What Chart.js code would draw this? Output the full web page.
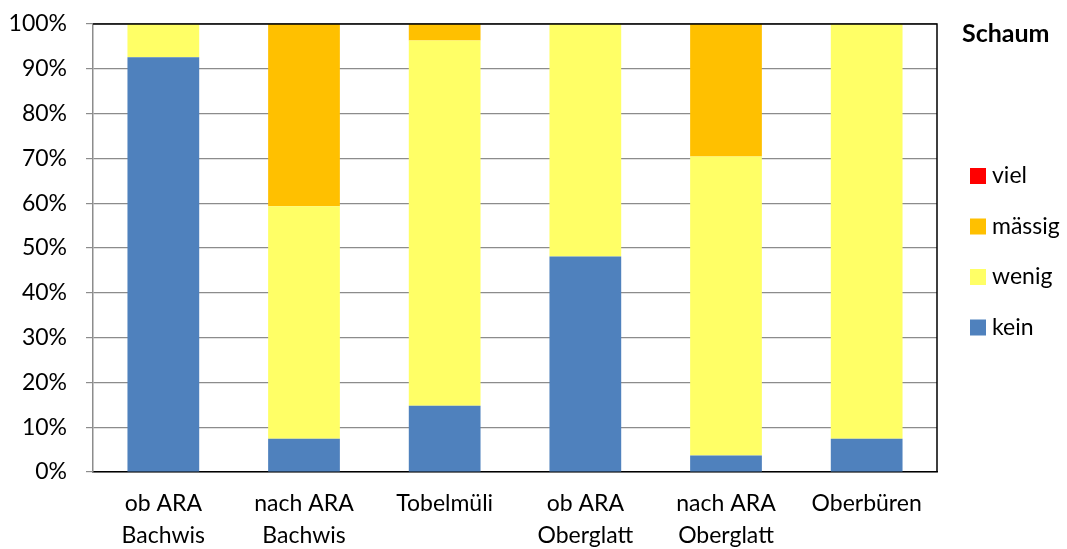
<!DOCTYPE html>
<html>
<head>
<meta charset="utf-8">
<script src="https://cdn.jsdelivr.net/npm/chart.js@4"></script>
<style>
  html, body { margin: 0; padding: 0; background: #fff; }
  #wrap { width: 1067px; height: 549px; }
</style>
</head>
<body>
<div id="wrap"><canvas id="myChart" width="1067" height="549"></canvas></div>
<script>
const stations = [["ob ARA", "Bachwis"], ["nach ARA", "Bachwis"], "Tobelmüli", ["ob ARA", "Oberglatt"], ["nach ARA", "Oberglatt"], "Oberbüren"];

// share of samples per foam class, in percent
const kein   = [92.6, 7.4, 14.8, 48.1, 3.7, 7.4];
const wenig  = [7.4, 51.9, 81.5, 51.9, 66.7, 92.6];
const massig = [0, 40.7, 3.7, 0, 29.6, 0];
const viel   = [0, 0, 0, 0, 0, 0];

const yTicks = [0, 10, 20, 30, 40, 50, 60, 70, 80, 90, 100];

const FONT = "Lato, 'Open Sans', sans-serif";

// frame on top and right of the plot, plus the legend block
const frameAndLegend = {
  id: "frameAndLegend",
  afterDraw(chart) {
    const ctx = chart.ctx;
    const a = chart.chartArea;
    ctx.save();
    ctx.strokeStyle = "#000";
    ctx.lineWidth = 1.5;
    ctx.beginPath();
    ctx.moveTo(a.left, a.top);
    ctx.lineTo(a.right, a.top);
    ctx.lineTo(a.right, a.bottom);
    ctx.stroke();

    ctx.fillStyle = "#000";
    ctx.font = "bold 25px " + FONT;
    ctx.textBaseline = "middle";
    ctx.textAlign = "left";
    ctx.fillText("Schaum", 962, 34);

    ctx.font = "23px " + FONT;
    const items = chart.data.datasets.slice().reverse();
    items.forEach((ds, i) => {
      const y = 176 + i * 50.5;
      ctx.fillStyle = ds.backgroundColor;
      ctx.fillRect(970, y - 8, 16, 16);
      ctx.fillStyle = "#000";
      ctx.fillText(ds.label, 992, y);
    });
    ctx.restore();
  }
};

new Chart("myChart", {
  type: "bar",
  data: {
    labels: stations,
    datasets: [
      { label: "kein",   data: kein,   backgroundColor: "#4F81BD" },
      { label: "wenig",  data: wenig,  backgroundColor: "#FFFF66" },
      { label: "mässig", data: massig, backgroundColor: "#FFC000" },
      { label: "viel",   data: viel,   backgroundColor: "#FF0000" }
    ]
  },
  options: {
    responsive: false,
    animation: false,
    layout: { padding: { top: 24, right: 130, bottom: 0, left: 0 } },
    datasets: { bar: { barPercentage: 0.51, categoryPercentage: 1 } },
    plugins: {
      legend: { display: false },
      tooltip: { enabled: false }
    },
    scales: {
      x: {
        stacked: true,
        afterFit(scale) { scale.height = 77; scale.paddingLeft = 0; scale.paddingRight = 0; },
        grid: { display: false, drawTicks: false },
        border: { color: "#000", width: 1.5 },
        ticks: {
          color: "#000",
          padding: 16,
          maxRotation: 0,
          autoSkip: false,
          font: { family: FONT, size: 23, lineHeight: 1.39 }
        }
      },
      y: {
        stacked: true,
        min: 0,
        max: 100,
        afterFit(scale) { scale.width = 93; scale.paddingTop = 0; scale.paddingBottom = 0; },
        afterBuildTicks(scale) { scale.ticks = yTicks.map(v => ({ value: v })); },
        grid: { color: "#8c8c8c", lineWidth: 1.2, tickLength: 7 },
        border: { color: "#8c8c8c", width: 1.5 },
        ticks: {
          color: "#000",
          padding: 19,
          font: { family: FONT, size: 23 },
          callback: v => v + "%"
        }
      }
    }
  },
  plugins: [frameAndLegend]
});
</script>
</body>
</html>
